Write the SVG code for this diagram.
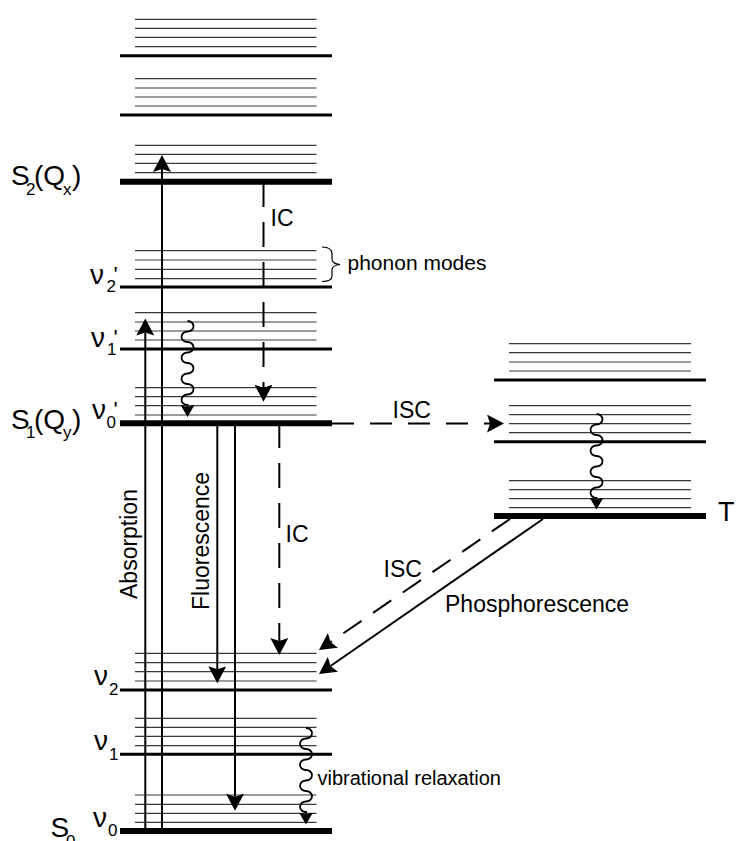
<svg xmlns="http://www.w3.org/2000/svg" width="738" height="841" viewBox="0 0 738 841">
<style>
.bg{fill:#fff}
.sub{stroke:#3a3a3a;stroke-width:1.2;fill:none}
.main{stroke:#000;stroke-width:3;fill:none}
.thick{stroke:#000;stroke-width:6;fill:none}
.arr{stroke:#000;stroke-width:2;fill:none}
.dash{stroke:#000;stroke-width:2;fill:none}
.wave{stroke:#000;stroke-width:1.8;fill:none}
text{font-family:"Liberation Sans",Arial,sans-serif;fill:#000}
.lbl{font-size:23px}
.big{font-size:28px}
.sm{font-size:17px}
.pr{font-size:22px}
</style>
<defs>
<marker id="ah" markerUnits="userSpaceOnUse" markerWidth="17" markerHeight="18" refX="3" refY="9" orient="auto" viewBox="0 0 17 18">
<path d="M0,0 L17,9 L0,18 L3,9 Z" fill="#000"/>
</marker>
<marker id="ahs" markerUnits="userSpaceOnUse" markerWidth="12" markerHeight="14" refX="2" refY="7" orient="auto" viewBox="0 0 12 14">
<path d="M0,0 L12,7 L0,14 L2,7 Z" fill="#000"/>
</marker>
</defs>
<rect class="bg" x="0" y="0" width="738" height="841"/>

<g id="level-upper2">
<path class="sub" d="M135,19.3H316.5M135,28.3H316.5M135,37.3H316.5M135,46.7H316.5"/>
<path class="main" d="M120,55.7H332"/>
</g>
<g id="level-upper1">
<path class="sub" d="M135,78.7H316.5M135,88H316.5M135,97H316.5M135,106H316.5"/>
<path class="main" d="M120,115H332"/>
</g>
<g id="S2">
<path class="sub" d="M135,145.3H316.5M135,154.3H316.5M135,163.3H316.5M135,172.7H316.5"/>
<path class="thick" d="M120,181.7H332"/>
<text class="big" x="11" y="185">S<tspan class="sm" x="26" y="195">2</tspan><tspan x="34" y="185">(Q</tspan><tspan class="sm" x="63" y="195">x</tspan><tspan x="72" y="185">)</tspan></text>
</g>
<g id="nu2p">
<path class="sub" d="M135,250.7H316.5M135,260H316.5M135,269.3H316.5M135,278.7H316.5"/>
<path class="main" d="M120,287H332"/>
<text class="big" x="90" y="283.5">ν</text><text class="sm" x="106.5" y="292">2</text><text class="pr" x="113.5" y="282">'</text>
<path d="M322,247 C329,247 332,249 332,254 L332,259 C332,262 334,264 340,264.5 C334,265 332,267 332,270 L332,276 C332,280 329,281.5 322,281.5" fill="none" stroke="#000" stroke-width="1.2"/>
<text x="347.5" y="270" font-size="21">phonon modes</text>
</g>
<g id="nu1p">
<path class="sub" d="M135,312.7H316.5M135,322H316.5M135,331H316.5M135,340H316.5"/>
<path class="main" d="M120,349H332"/>
<text class="big" x="91" y="346.5">ν</text><text class="sm" x="107" y="355">1</text><text class="pr" x="113.5" y="345">'</text>
</g>
<g id="S1">
<path class="sub" d="M135,387.7H316.5M135,396.7H316.5M135,405.7H316.5M135,415H316.5"/>
<path class="thick" d="M120,423.3H332"/>
<text class="big" x="92" y="418.5">ν</text><text class="sm" x="106.5" y="428">0</text><text class="pr" x="113.5" y="417">'</text>
<text class="big" x="11" y="429.3">S<tspan class="sm" x="26" y="438">1</tspan><tspan x="34" y="429.3">(Q</tspan><tspan class="sm" x="63" y="438">y</tspan><tspan x="72" y="429.3">)</tspan></text>
</g>
<g id="nu2">
<path class="sub" d="M135,653.3H316.5M135,662.7H316.5M135,671.7H316.5M135,681H316.5"/>
<path class="main" d="M120,690H332"/>
<text class="big" x="94" y="685">ν</text><text class="sm" x="109" y="695">2</text>
</g>
<g id="nu1">
<path class="sub" d="M135,718.3H316.5M135,727.3H316.5M135,736.3H316.5M135,745.7H316.5"/>
<path class="main" d="M120,754.3H332"/>
<text class="big" x="94" y="750">ν</text><text class="sm" x="109" y="760">1</text>
</g>
<g id="S0">
<path class="sub" d="M135,795H316.5M135,804.3H316.5M135,813.3H316.5M135,822.3H316.5"/>
<path class="thick" d="M120,831H332"/>
<text class="big" x="93" y="826.5">ν</text><text class="sm" x="108" y="836">0</text>
<text class="big" x="50.5" y="837">S<tspan class="sm" x="66" y="847">0</tspan></text>
</g>
<g id="T-upper">
<path class="sub" d="M509,343.7H691M509,352.7H691M509,362H691M509,371H691"/>
<path class="main" d="M494,380H706"/>
</g>
<g id="T-mid">
<path class="sub" d="M509,405.7H691M509,414.7H691M509,423.7H691M509,432.7H691"/>
<path class="main" d="M494,441.7H706"/>
</g>
<g id="T">
<path class="sub" d="M509,480.7H691M509,489.7H691M509,498.7H691M509,507.7H691"/>
<path class="thick" d="M494,516H706"/>
<text x="718" y="521" font-size="27">T</text>
</g>

<g id="connectors">
<line class="arr" x1="162" y1="831" x2="162" y2="169" marker-end="url(#ah)"/>
<line class="arr" x1="145.3" y1="831" x2="145.3" y2="332.5" marker-end="url(#ah)"/>
<line class="arr" x1="217.3" y1="423" x2="217.3" y2="669.3" marker-end="url(#ah)"/>
<line class="arr" x1="235" y1="423" x2="235" y2="796.7" marker-end="url(#ah)"/>
<line class="dash" x1="263.5" y1="182" x2="263.5" y2="387.7" stroke-dasharray="25 15" marker-end="url(#ah)"/>
<line class="dash" x1="279.3" y1="423" x2="279.3" y2="641" stroke-dasharray="25 15" marker-end="url(#ah)"/>
<line class="dash" x1="332" y1="423.5" x2="490" y2="423.5" stroke-dasharray="22 16" marker-end="url(#ah)"/>
<line class="arr" x1="543" y1="519" x2="330.5" y2="666" marker-end="url(#ah)"/>
<line class="dash" x1="510" y1="519" x2="330.5" y2="642.1" stroke-dasharray="22 14" marker-end="url(#ah)"/>
<path class="wave" d="M187.5,321 a6,5.25 0 0 1 0,10.5 a6,5.25 0 0 0 0,10.5 a6,5.25 0 0 1 0,10.5 a6,5.25 0 0 0 0,10.5 a6,5.25 0 0 1 0,10.5 a6,5.25 0 0 0 0,10.5 a6,5.25 0 0 1 0,10.5 a6,5.25 0 0 0 0,10.5 l0,2" marker-end="url(#ahs)"/>
<path class="wave" d="M596.5,414 a6,5.25 0 0 1 0,10.5 a6,5.25 0 0 0 0,10.5 a6,5.25 0 0 1 0,10.5 a6,5.25 0 0 0 0,10.5 a6,5.25 0 0 1 0,10.5 a6,5.25 0 0 0 0,10.5 a6,5.25 0 0 1 0,10.5 a6,5.25 0 0 0 0,10.5 l0,1.5" marker-end="url(#ahs)"/>
<path class="wave" d="M306,728 a6,5.25 0 0 1 0,10.5 a6,5.25 0 0 0 0,10.5 a6,5.25 0 0 1 0,10.5 a6,5.25 0 0 0 0,10.5 a6,5.25 0 0 1 0,10.5 a6,5.25 0 0 0 0,10.5 a6,5.25 0 0 1 0,10.5 a6,5.25 0 0 0 0,10.5 l0,2.5" marker-end="url(#ahs)"/>
<text class="lbl" transform="translate(137,599) rotate(-90)" font-size="24">Absorption</text>
<text class="lbl" transform="translate(208.5,610) rotate(-90)">Fluorescence</text>
<text class="lbl" x="270.5" y="226">IC</text>
<text class="lbl" x="285.5" y="541.5">IC</text>
<text class="lbl" x="392.5" y="418">ISC</text>
<text class="lbl" x="383.5" y="577">ISC</text>
<text class="lbl" x="445" y="612">Phosphorescence</text>
<text x="317.5" y="785" font-size="20">vibrational relaxation</text>
</g>
</svg>
